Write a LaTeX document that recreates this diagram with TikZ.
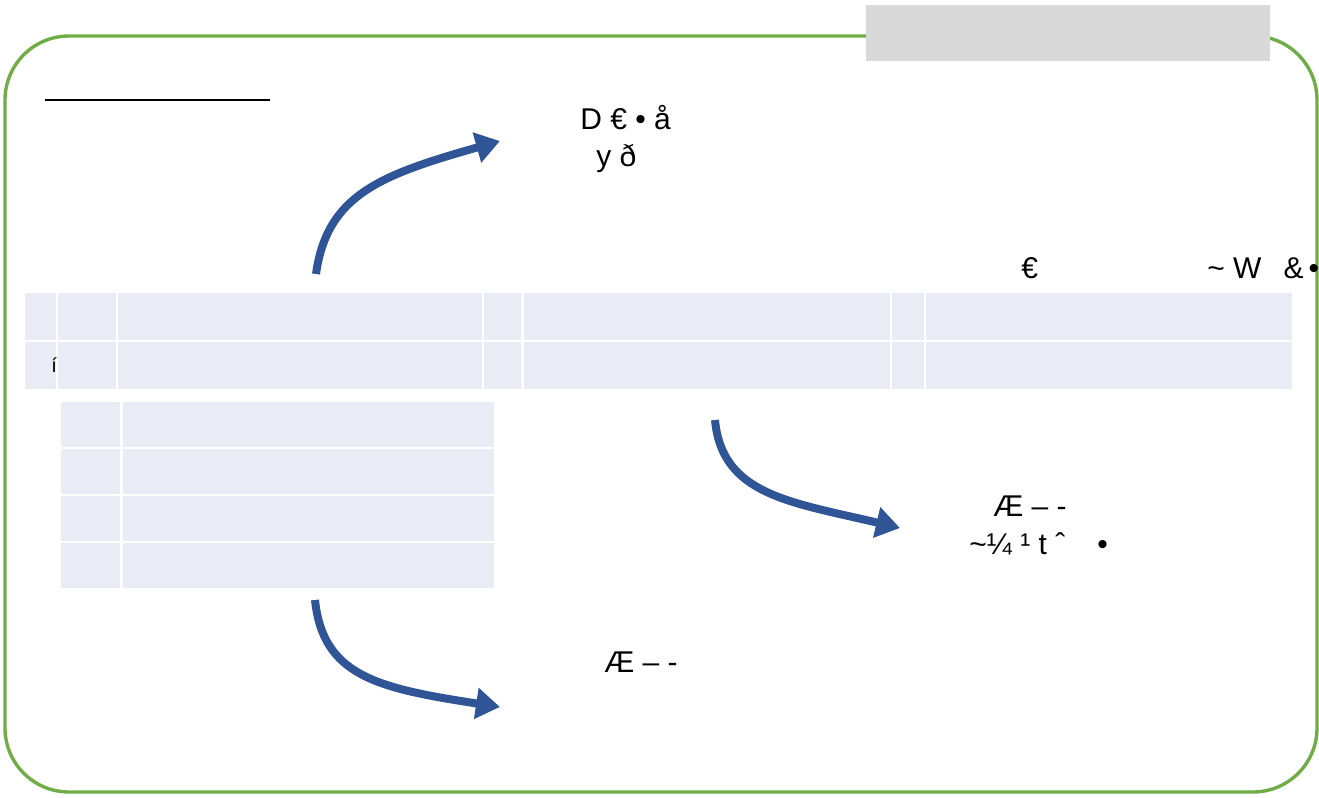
\documentclass[tikz,border=0pt]{standalone}
\usepackage{fontspec}
\setmainfont{Liberation Sans}
\usetikzlibrary{arrows.meta}
\definecolor{frame}{HTML}{70AD47}
\definecolor{cellfill}{HTML}{E9EBF5}
\definecolor{flow}{HTML}{2F5597}
\definecolor{banner}{HTML}{D9D9D9}
\begin{document}
\begin{tikzpicture}[x=0.5pt,y=-0.5pt,
	cell/.style={fill=cellfill},
	flowarrow/.style={draw=flow, line width=4pt, -{Triangle[length=12pt,width=15pt]}},
	glyph/.style={font=\fontsize{15}{18}\selectfont, inner sep=0pt, anchor=base west},
	small/.style={font=\fontsize{10}{12}\selectfont, inner sep=0pt, anchor=base west}]
	\useasboundingbox (0,0) rectangle (1319,798);
	\draw[frame, line width=1.7pt, rounded corners=32pt] (5,36) rectangle (1317,792);
	\fill[banner] (866,5) rectangle (1270,61);
	\draw[line width=1pt] (45,100) -- (270,100);
	% wide table
	\foreach \xa/\xb in {25/56,58/116,118/482,484/521,524/890,892/924,926/1292} {
		\fill[cell] (\xa,293) rectangle (\xb,340);
		\fill[cell] (\xa,342) rectangle (\xb,389);
	}
	% small table
	\foreach \ya/\yb in {402/447,449/494,496/541,543/588} {
		\fill[cell] (61,\ya) rectangle (120,\yb);
		\fill[cell] (123,\ya) rectangle (494,\yb);
	}
	\node[glyph] (top1) at (580,129) {D € • å};
	\node[glyph] (top2) at (596,166) {y ð};
	\node[glyph] (head1) at (1021,278) {€};
	\node[glyph] (head2) at (1207,278) {\textasciitilde{} W\hspace{11pt}\&\,•};
	\node[small] (rowmark) at (51,372) {í};
	\node[glyph] (mid1) at (993,516) {Æ – -};
	\node[glyph] (mid2) at (969,554) {\textasciitilde¼ ¹ t ˆ\hspace{16pt}•};
	\node[glyph] (low1) at (604,672) {Æ – -};
	% arrows
	\coordinate (up0) at (316,274);
	\coordinate (up1) at (500,141);
	\coordinate (dn0) at (315,600);
	\coordinate (dn1) at (500,707);
	\coordinate (rt0) at (715,420);
	\coordinate (rt1) at (900,528);
	\draw[flowarrow] (up0) .. controls (327,195) and (380,175) .. (up1);
	\draw[flowarrow] (dn0) .. controls (323,675) and (375,688) .. (dn1);
	\draw[flowarrow] (rt0) .. controls (722,495) and (790,502) .. (rt1);
\end{tikzpicture}
\end{document}
